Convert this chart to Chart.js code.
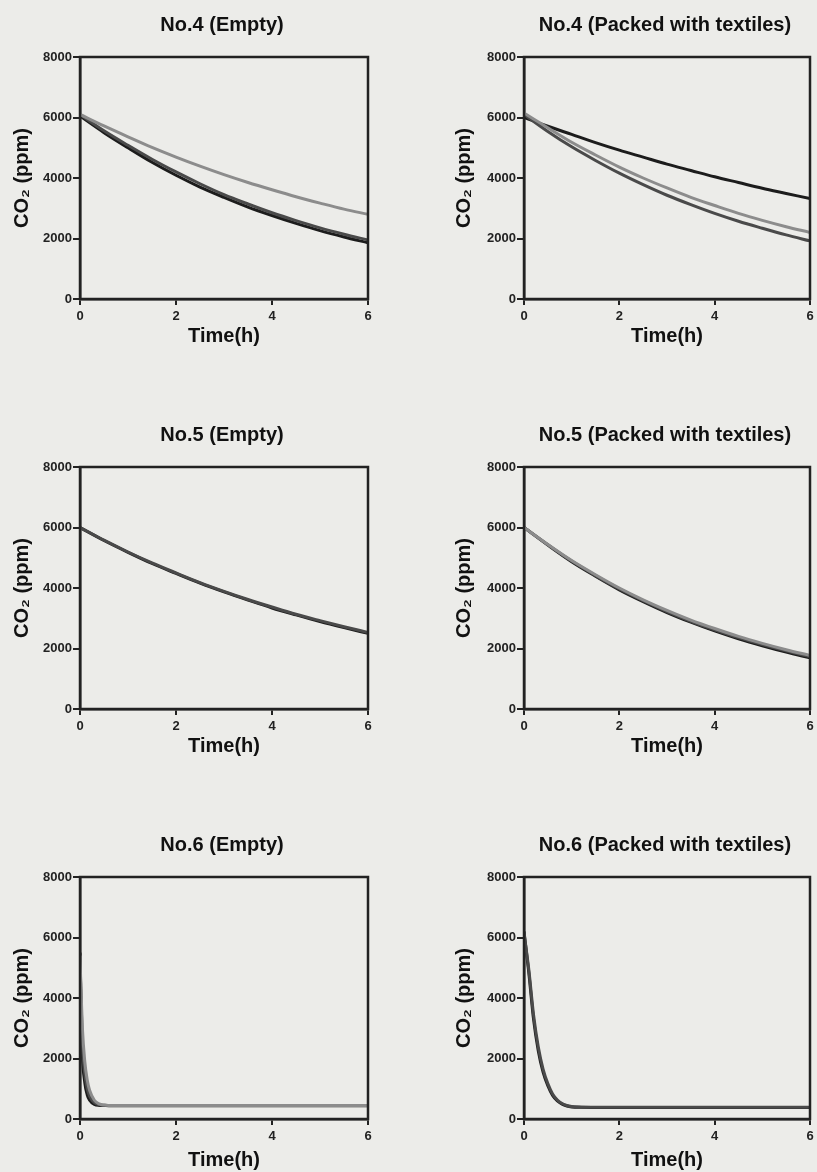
<!DOCTYPE html>
<html>
<head>
<meta charset="utf-8">
<script src="https://cdn.jsdelivr.net/npm/chart.js@4.4.1/dist/chart.umd.min.js"></script>
<style>
  html, body { margin: 0; padding: 0; background: #ecece9; overflow: hidden; }
  #wrap { position: relative; width: 817px; height: 1172px; overflow: hidden; }
  canvas { position: absolute; }
</style>
</head>
<body>
<div id="wrap">
  <canvas id="p1" width="444" height="380" style="left:0;top:0"></canvas>
  <canvas id="p2" width="450" height="380" style="left:440px;top:0"></canvas>
  <canvas id="p3" width="444" height="380" style="left:0;top:410px"></canvas>
  <canvas id="p4" width="450" height="380" style="left:440px;top:410px"></canvas>
  <canvas id="p5" width="444" height="352" style="left:0;top:820px"></canvas>
  <canvas id="p6" width="450" height="352" style="left:440px;top:820px"></canvas>
</div>
<script>
// axis ticks
const xTicks = [0, 2, 4, 6];
const yTicks = [0, 2000, 4000, 6000, 8000];

// time points (h)
const timesSlow = [0, 0.5, 1, 1.5, 2, 2.5, 3, 3.5, 4, 4.5, 5, 5.5, 6];
const timesFast6E = [0, 0.02, 0.05, 0.1, 0.15, 0.2, 0.3, 0.4, 0.5, 0.6, 0.8, 1, 2, 3, 4, 5, 6];
const timesFast6P = [0, 0.1, 0.2, 0.3, 0.4, 0.5, 0.6, 0.7, 0.8, 0.9, 1, 1.2, 1.5, 2, 3, 4, 5, 6];

// No.4 Empty
const no4EmptyA = [6050, 5500, 5000, 4520, 4090, 3700, 3360, 3040, 2760, 2500, 2260, 2050, 1860];
const no4EmptyB = [6100, 5560, 5080, 4620, 4200, 3810, 3450, 3140, 2850, 2590, 2350, 2140, 1950];
const no4EmptyC = [6100, 5720, 5360, 5010, 4690, 4390, 4110, 3850, 3610, 3380, 3170, 2970, 2800];

// No.4 Packed with textiles
const no4PackedA = [6000, 5710, 5440, 5170, 4920, 4690, 4460, 4250, 4040, 3850, 3660, 3490, 3320];
const no4PackedB = [6150, 5660, 5180, 4760, 4360, 4000, 3670, 3360, 3090, 2830, 2600, 2390, 2200];
const no4PackedC = [6100, 5540, 5030, 4580, 4160, 3780, 3430, 3120, 2830, 2570, 2340, 2120, 1920];

// No.5 Empty
const no5EmptyA = [6000, 5570, 5180, 4810, 4480, 4160, 3870, 3600, 3340, 3110, 2890, 2690, 2500];
const no5EmptyB = [6000, 5580, 5190, 4830, 4500, 4180, 3890, 3620, 3370, 3130, 2920, 2720, 2530];

// No.5 Packed with textiles
const no5PackedA = [6000, 5420, 4870, 4390, 3940, 3550, 3190, 2870, 2580, 2320, 2090, 1880, 1690];
const no5PackedB = [6000, 5440, 4910, 4440, 4000, 3610, 3260, 2940, 2660, 2400, 2170, 1960, 1770];
const no5PackedC = [6000, 5430, 4890, 4410, 3970, 3580, 3220, 2900, 2620, 2360, 2130, 1920, 1730];

// No.6 Empty
const no6EmptyA = [5500, 3800, 2100, 1200, 800, 620, 480, 450, 445, 440, 440, 440, 440, 440, 440, 440, 440];
const no6EmptyB = [5400, 4300, 3000, 1900, 1300, 950, 620, 500, 460, 450, 450, 450, 450, 450, 450, 450, 450];
const no6EmptyC = [5450, 4050, 2500, 1500, 1000, 760, 540, 470, 455, 445, 445, 445, 445, 445, 445, 445, 445];

// No.6 Packed with textiles
const no6PackedA = [6200, 4850, 3300, 2250, 1550, 1100, 780, 600, 490, 430, 400, 385, 380, 380, 380, 380, 380, 380];
const no6PackedB = [6150, 4950, 3450, 2380, 1650, 1170, 830, 630, 510, 445, 410, 392, 386, 385, 385, 385, 385, 385];

const BLACK = '#1c1c1c';
const DARK = '#4a4a4a';
const GRAY = '#8c8c8c';
const FONT = '"Liberation Sans", Arial, sans-serif';

function pts(xs, ys) {
    return xs.map((x, i) => ({ x: x, y: ys[i] }));
}

function line(xs, ys, color) {
    return {
        data: pts(xs, ys),
        borderColor: color,
        borderWidth: 3,
        pointRadius: 0,
        fill: false,
        cubicInterpolationMode: 'monotone'
    };
}

// box around the plot area
const framePlugin = {
    id: 'frame',
    afterDatasetsDraw(chart) {
        const { ctx, chartArea: a } = chart;
        ctx.save();
        ctx.strokeStyle = '#222';
        ctx.lineWidth = 2.5;
        ctx.strokeRect(a.left, a.top, a.right - a.left, a.bottom - a.top);
        ctx.restore();
    }
};

function makePanel(id, title, datasets, col, row) {
    const yWidth = col === 0 ? 80 : 84;
    const rightWidth = col === 0 ? 76 : 80;
    const xHeight = row === 2 ? 53 : 81;
    const xTitlePad = row === 2 ? 0 : 32;
    const yTitlePad = col === 0 ? 10 : 12;

    new Chart(document.getElementById(id), {
        type: 'line',
        data: { datasets: datasets },
        plugins: [framePlugin],
        options: {
            responsive: false,
            animation: false,
            events: [],
            layout: { padding: 0 },
            plugins: {
                legend: { display: false },
                tooltip: { enabled: false },
                title: {
                    display: true,
                    text: title,
                    color: '#111',
                    font: { family: FONT, size: 20, weight: 'bold' },
                    padding: { top: 13, bottom: 20 }
                }
            },
            scales: {
                x: {
                    type: 'linear',
                    min: 0,
                    max: 6,
                    afterBuildTicks: (s) => { s.ticks = xTicks.map(v => ({ value: v })); },
                    afterFit: (s) => { s.height = xHeight; },
                    ticks: {
                        color: '#222',
                        padding: 4,
                        font: { family: FONT, size: 13, weight: 'bold' },
                        callback: (v) => String(v)
                    },
                    grid: { drawOnChartArea: false, drawTicks: true, tickLength: 6, color: '#222', lineWidth: 2 },
                    border: { display: true, color: '#222', width: 2.5 },
                    title: {
                        display: true,
                        text: 'Time(h)',
                        color: '#111',
                        font: { family: FONT, size: 20, weight: 'bold' },
                        padding: { top: 0, bottom: xTitlePad }
                    }
                },
                y: {
                    min: 0,
                    max: 8000,
                    afterBuildTicks: (s) => { s.ticks = yTicks.map(v => ({ value: v })); },
                    afterFit: (s) => { s.width = yWidth; },
                    ticks: {
                        color: '#222',
                        padding: 1,
                        font: { family: FONT, size: 13, weight: 'bold' },
                        callback: (v) => String(v)
                    },
                    grid: { drawOnChartArea: false, drawTicks: true, tickLength: 7, color: '#222', lineWidth: 2 },
                    border: { display: true, color: '#222', width: 2.5 },
                    title: {
                        display: true,
                        text: 'CO₂ (ppm)',
                        color: '#111',
                        font: { family: FONT, size: 20, weight: 'bold' },
                        padding: { top: yTitlePad, bottom: 0 }
                    }
                },
                // empty right-hand spacer so the title centres like the original
                spacer: {
                    type: 'linear',
                    position: 'right',
                    display: true,
                    afterFit: (s) => { s.width = rightWidth; },
                    ticks: { display: false },
                    grid: { display: false },
                    border: { display: false }
                }
            }
        }
    });
}

document.addEventListener('DOMContentLoaded', () => {
    makePanel('p1', 'No.4 (Empty)', [
        line(timesSlow, no4EmptyC, GRAY),
        line(timesSlow, no4EmptyB, DARK),
        line(timesSlow, no4EmptyA, BLACK)
    ], 0, 0);

    makePanel('p2', 'No.4 (Packed with textiles)', [
        line(timesSlow, no4PackedB, GRAY),
        line(timesSlow, no4PackedC, DARK),
        line(timesSlow, no4PackedA, BLACK)
    ], 1, 0);

    makePanel('p3', 'No.5 (Empty)', [
        line(timesSlow, no5EmptyB, DARK),
        line(timesSlow, no5EmptyA, BLACK)
    ], 0, 1);

    makePanel('p4', 'No.5 (Packed with textiles)', [
        line(timesSlow, no5PackedB, GRAY),
        line(timesSlow, no5PackedC, DARK),
        line(timesSlow, no5PackedA, BLACK)
    ], 1, 1);

    makePanel('p5', 'No.6 (Empty)', [
        line(timesFast6E, no6EmptyB, GRAY),
        line(timesFast6E, no6EmptyC, DARK),
        line(timesFast6E, no6EmptyA, BLACK)
    ], 0, 2);

    makePanel('p6', 'No.6 (Packed with textiles)', [
        line(timesFast6P, no6PackedB, DARK),
        line(timesFast6P, no6PackedA, BLACK)
    ], 1, 2);
});
</script>
</body>
</html>
